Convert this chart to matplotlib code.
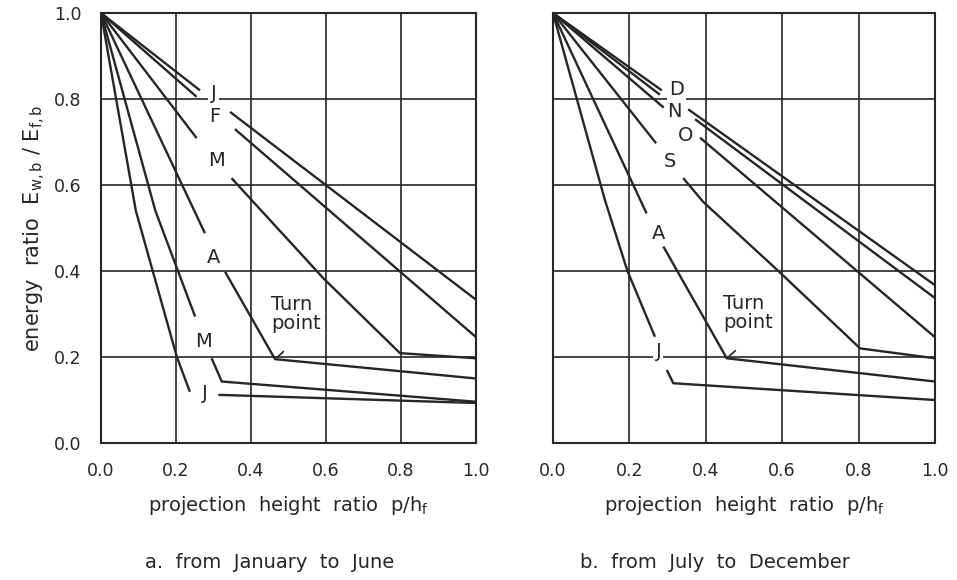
import numpy as np
import matplotlib
matplotlib.use('Agg')
import matplotlib.pyplot as plt

nan = np.nan

# --- a. January to June (x = p/h_f, y = E_wb/E_fb), nan = gap for the label
jan_x = [0, 0.264, nan, 0.344, 1.0]
jan_y = [1, 0.820, nan, 0.770, 0.333]
feb_x = [0, 0.255, nan, 0.357, 1.0]
feb_y = [1, 0.805, nan, 0.730, 0.246]
mar_x = [0, 0.255, nan, 0.348, 0.593, 0.797, 1.0]
mar_y = [1, 0.709, nan, 0.616, 0.383, 0.209, 0.197]
apr_x = [0, 0.277, nan, 0.331, 0.464, 1.0]
apr_y = [1, 0.488, nan, 0.398, 0.195, 0.150]
may_x = [0, 0.145, 0.251, nan, 0.295, 0.322, 1.0]
may_y = [1, 0.540, 0.294, nan, 0.197, 0.143, 0.096]
jun_x = [0, 0.093, 0.202, 0.237, nan, 0.313, 1.0]
jun_y = [1, 0.540, 0.201, 0.119, nan, 0.112, 0.093]

# --- b. July to December
jul_x = [0, 0.136, 0.195, 0.267, nan, 0.298, 0.315, 1.0]
jul_y = [1, 0.565, 0.400, 0.247, nan, 0.170, 0.139, 0.100]
aug_x = [0, 0.245, nan, 0.289, 0.455, 1.0]
aug_y = [1, 0.534, nan, 0.457, 0.197, 0.143]
sep_x = [0, 0.270, nan, 0.341, 0.393, 0.590, 0.804, 1.0]
sep_y = [1, 0.697, nan, 0.616, 0.561, 0.400, 0.220, 0.197]
oct_x = [0, 0.290, nan, 0.385, 1.0]
oct_y = [1, 0.780, nan, 0.710, 0.246]
nov_x = [0, 0.280, nan, 0.372, 1.0]
nov_y = [1, 0.810, nan, 0.753, 0.337]
dec_x = [0, 0.285, nan, 0.354, 1.0]
dec_y = [1, 0.820, nan, 0.776, 0.367]

curves_a = [(jan_x, jan_y), (feb_x, feb_y), (mar_x, mar_y),
            (apr_x, apr_y), (may_x, may_y), (jun_x, jun_y)]
curves_b = [(jul_x, jul_y), (aug_x, aug_y), (sep_x, sep_y),
            (oct_x, oct_y), (nov_x, nov_y), (dec_x, dec_y)]

names_a = ['J', 'F', 'M', 'A', 'M', 'J']
names_b = ['J', 'A', 'S', 'O', 'N', 'D']
# where the month letters sit
pos_a = [(0.300, 0.813), (0.304, 0.759), (0.309, 0.658),
         (0.301, 0.432), (0.273, 0.236), (0.277, 0.116)]
pos_b = [(0.276, 0.212), (0.276, 0.488), (0.306, 0.654),
         (0.346, 0.716), (0.319, 0.770), (0.324, 0.821)]

turn_a = (0.464, 0.195)
turn_b = (0.455, 0.197)

ticks = [0.0, 0.2, 0.4, 0.6, 0.8, 1.0]
tick_labels = ['0.0', '0.2', '0.4', '0.6', '0.8', '1.0']

ink = '#262626'
plt.rcParams['font.family'] = ['DejaVu Sans']

fig = plt.figure(figsize=(9.57, 5.80), dpi=100)
ax_a = fig.add_axes([0.1055, 0.2362, 0.392, 0.7414])
ax_b = fig.add_axes([0.5778, 0.2362, 0.3992, 0.7414])


def draw_panel(ax, curves, names, pos, turn, show_y):
    for (x, y) in curves:
        ax.plot(x, y, color=ink, lw=1.7, solid_capstyle='butt')
    for name, (tx, ty) in zip(names, pos):
        ax.text(tx, ty, name, ha='center', va='center', fontsize=14,
                color=ink, bbox=dict(facecolor='white', edgecolor='none', pad=1.5))
    ax.text(turn[0] - 0.01, turn[1] + 0.06, 'Turn\npoint', ha='left', va='bottom',
            fontsize=14, color=ink, linespacing=1.05)
    ax.annotate('', xy=turn, xytext=(turn[0] + 0.028, turn[1] + 0.022),
                arrowprops=dict(arrowstyle='-', color=ink, lw=1.2))
    ax.set_xlim(0, 1)
    ax.set_ylim(0, 1)
    ax.set_xticks(ticks)
    ax.set_xticklabels(tick_labels)
    ax.set_yticks(ticks)
    if show_y:
        ax.set_yticklabels(tick_labels)
    else:
        ax.set_yticklabels([])
    ax.tick_params(length=0, labelsize=12.5, colors=ink, pad=14)
    ax.grid(True, color=ink, lw=1.2)
    ax.set_axisbelow(True)
    for s in ax.spines.values():
        s.set_color(ink)
        s.set_linewidth(1.5)
    ax.set_xlabel(r'projection  height  ratio  p/h$_\mathregular{f}$', fontsize=14,
                  color=ink, labelpad=10)


draw_panel(ax_a, curves_a, names_a, pos_a, turn_a, True)
draw_panel(ax_b, curves_b, names_b, pos_b, turn_b, False)
ax_a.set_ylabel(r'energy  ratio  E$_\mathregular{w,b}$ / E$_\mathregular{f,b}$',
                fontsize=15, color=ink, labelpad=4)

fig.text(0.282, 0.031, 'a.  from  January  to  June', ha='center', va='center',
         fontsize=14, color=ink)
fig.text(0.747, 0.031, 'b.  from  July  to  December', ha='center', va='center',
         fontsize=14, color=ink)

fig.savefig('out.png', dpi=100)
